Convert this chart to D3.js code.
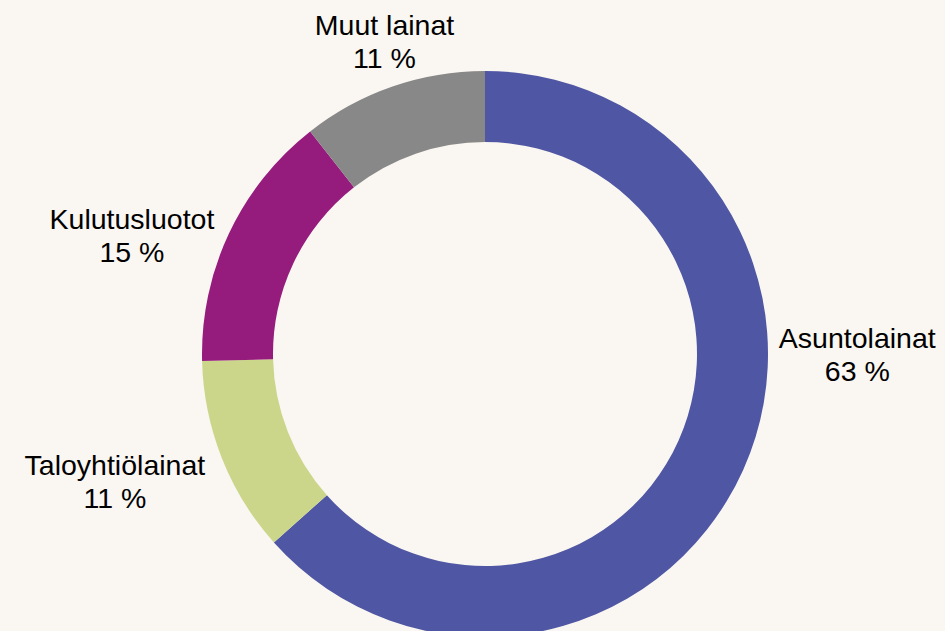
<!DOCTYPE html>
<html>
<head>
<meta charset="utf-8">
<script src="https://cdn.jsdelivr.net/npm/d3@7"></script>
<style>
  html, body { margin: 0; padding: 0; background: #faf6f1; }
  svg { display: block; }
</style>
</head>
<body>
<script>
// Chart data (shares of household loans, %)
var categories = ["Asuntolainat", "Taloyhtiölainat", "Kulutusluotot", "Muut lainat"];
var shares = [63.4, 11.2, 14.8, 10.6];
var colors = ["#4f56a3", "#cbd68a", "#951c7c", "#888888"];

// Layout
var w = 945, h = 631;
var cx = 485, cy = 354;
var outerR = 283, innerR = 212;
var lineGap = 33;
// label nudges relative to the point on the outer edge at each slice's mid angle
var labelNudge = [[114, -122], [-107, 17], [-97, -5], [-8, -52]];

var svg = d3.select("body").append("svg")
    .attr("width", w)
    .attr("height", h);

svg.append("rect")
    .attr("width", w)
    .attr("height", h)
    .attr("fill", "#faf6f1");

var data = categories.map(function(c, i) {
    return { name: c, value: shares[i], color: colors[i], idx: i };
});

var pie = d3.pie()
    .sort(null)
    .value(function(d) { return d.value; });

var arc = d3.arc()
    .innerRadius(innerR)
    .outerRadius(outerR);

var g = svg.append("g")
    .attr("transform", "translate(" + cx + "," + cy + ")");

var arcs = pie(data);

g.selectAll("path")
    .data(arcs)
    .enter()
    .append("path")
    .attr("d", arc)
    .attr("fill", function(d) { return d.data.color; });

// Labels: name on first line, rounded share on second
var labels = g.selectAll("text.lbl")
    .data(arcs)
    .enter()
    .append("text")
    .attr("class", "lbl")
    .attr("text-anchor", "middle")
    .attr("font-family", "'Liberation Sans', Arial, sans-serif")
    .attr("font-size", "28.5px")
    .attr("fill", "#000")
    .attr("transform", function(d) {
        var mid = (d.startAngle + d.endAngle) / 2;
        var p = d3.pointRadial(mid, outerR);
        var n = labelNudge[d.data.idx];
        return "translate(" + (p[0] + n[0]) + "," + (p[1] + n[1]) + ")";
    });

labels.append("tspan")
    .attr("x", 0)
    .attr("y", 0)
    .text(function(d) { return d.data.name; });

labels.append("tspan")
    .attr("x", 0)
    .attr("y", lineGap)
    .text(function(d) { return Math.round(d.data.value) + " %"; });
</script>
</body>
</html>
